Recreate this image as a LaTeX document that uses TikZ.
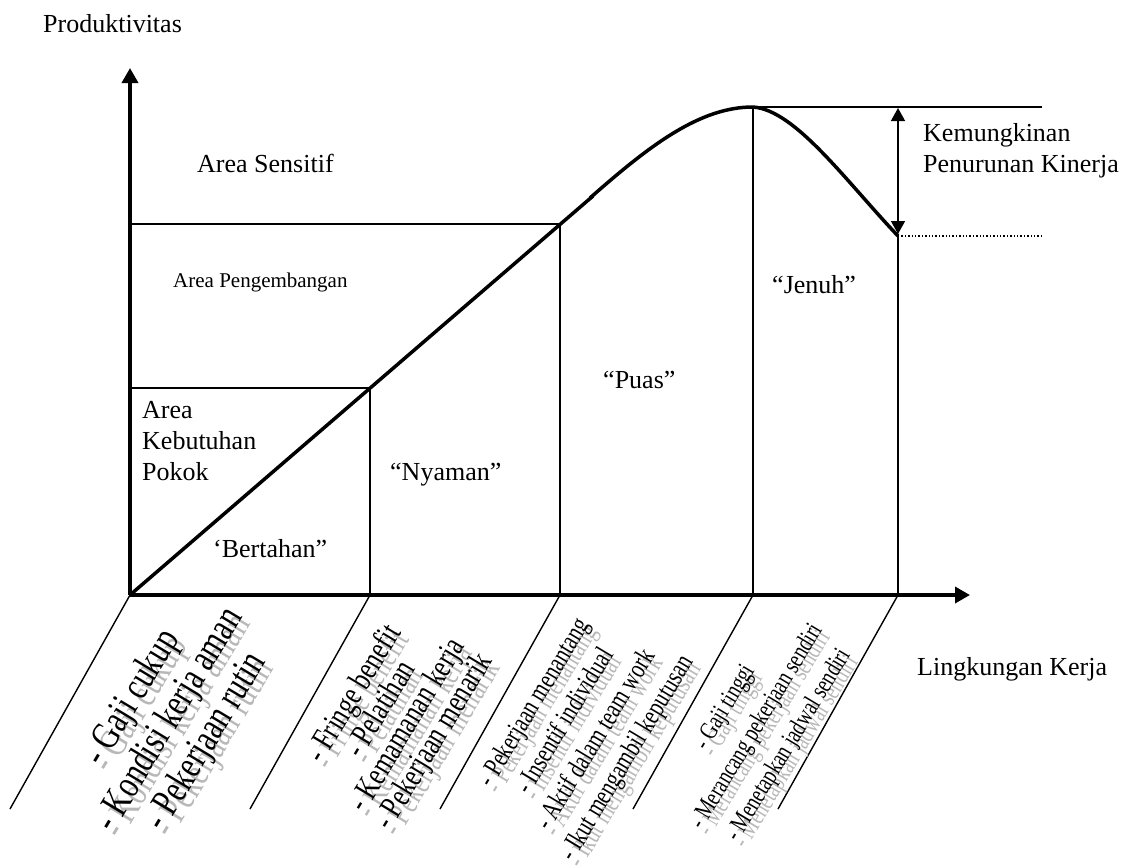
\documentclass[tikz,border=0pt]{standalone}
\usepackage{fontspec}
\setmainfont{Liberation Serif}
\newfontfamily\narrowserif[FakeStretch=0.75]{Liberation Serif}
\usetikzlibrary{arrows.meta}

\tikzset{
  axis/.style={line width=3.5pt,-{Triangle[width=16pt,length=15pt]}},
  curve/.style={line width=3.5pt},
  thinline/.style={line width=1.4pt},
  label/.style={font=\fontsize{26}{31}\selectfont,align=left},
  listtext/.style={rotate=59,align=center}
}

% list of conditions under the axis, with its grey shadow
\newcommand{\ketlist}[5]{%
  \node[listtext,text=black!28,font={\narrowserif\fontsize{#3}{#4}\selectfont}]
    at ([xshift=8pt,yshift=-7pt]#2) {#5};
  \node[listtext,font={\narrowserif\fontsize{#3}{#4}\selectfont}] (#1) at (#2) {#5};}

\begin{document}
\begin{tikzpicture}
  [x=1pt,y=-1pt,every node/.style={inner sep=0pt}]
  \useasboundingbox (0,0) rectangle (1127,865);

  \coordinate (o) at (130,595);
  \coordinate (c1) at (370,595);
  \coordinate (c2) at (560,595);
  \coordinate (c3) at (753,595);
  \coordinate (c4) at (898,595);
  \coordinate (k1) at (370,388);
  \coordinate (k2) at (560,224);
  \coordinate (top) at (753,107);
  \coordinate (low) at (898,236);

  % axes
  \draw[axis] (o) -- (130,68);
  \draw[axis] (o) -- (970,595);

  % areas
  \draw[thinline] (130,388) -- (k1) -- (c1);
  \draw[thinline] (130,224) -- (k2) -- (c2);
  \draw[thinline] (top) -- (c3);
  \draw[thinline] (low) -- (c4);
  \draw[thinline] (top) -- (1042,107);
  \draw[thinline,dotted] (low) -- (1042,236);
  \draw[thinline,{Triangle[width=14pt,length=13pt]}-{Triangle[width=14pt,length=13pt]}]
    (898,108) -- (898,234);

  % productivity curve
  \draw[curve] (o) -- (593,196);
  \draw[curve] (590,198) .. controls (650,145) and (700,107) .. (top)
    .. controls (795,110) and (845,180) .. (low);

  \foreach \p in {o,c1,c2,c3,c4}
    \draw[thinline] (\p) -- ++(-120,214);

  \node[label,anchor=base west] (prod) at (43,32) {Produktivitas};
  \node[label,anchor=base west] (ling) at (917,675) {Lingkungan Kerja};
  \node[label,anchor=base west] (turun) at (923,172) {Kemungkinan\\Penurunan Kinerja};
  \node[label,anchor=base west] (sens) at (197,172) {Area Sensitif};
  \node[anchor=base west,font=\fontsize{21}{25}\selectfont] (kemb) at (173,287) {Area Pengembangan};
  \node[label,anchor=base west] (pokok) at (142,480) {Area\\Kebutuhan\\Pokok};

  \node[label,anchor=base west] (bertahan) at (213,557) {‘Bertahan”};
  \node[label,anchor=base west] (nyaman) at (390,480) {“Nyaman”};
  \node[label,anchor=base west] (puas) at (603,388) {“Puas”};
  \node[label,anchor=base west] (jenuh) at (772,293) {“Jenuh”};

  \ketlist{l1}{170,720}{40}{43}{- Gaji cukup\\- Kondisi kerja aman\\- Pekerjaan rutin}
  \ketlist{l2}{395,718}{33}{31}{- Fringe benefit\\- Pelatihan\\- Kemamanan kerja\\- Pekerjaan menarik}
  \ketlist{l3}{581.5,731}{27.7}{36}{- Pekerjaan menantang\\- Insentif individual\\- Aktif dalam team work\\- Ikut mengambil keputusan}
  \ketlist{l4}{757.5,727}{25.6}{37}{- Gaji tinggi\\- Merancang pekerjaan sendiri\\- Menetapkan jadwal sendiri}

\end{tikzpicture}
\end{document}
